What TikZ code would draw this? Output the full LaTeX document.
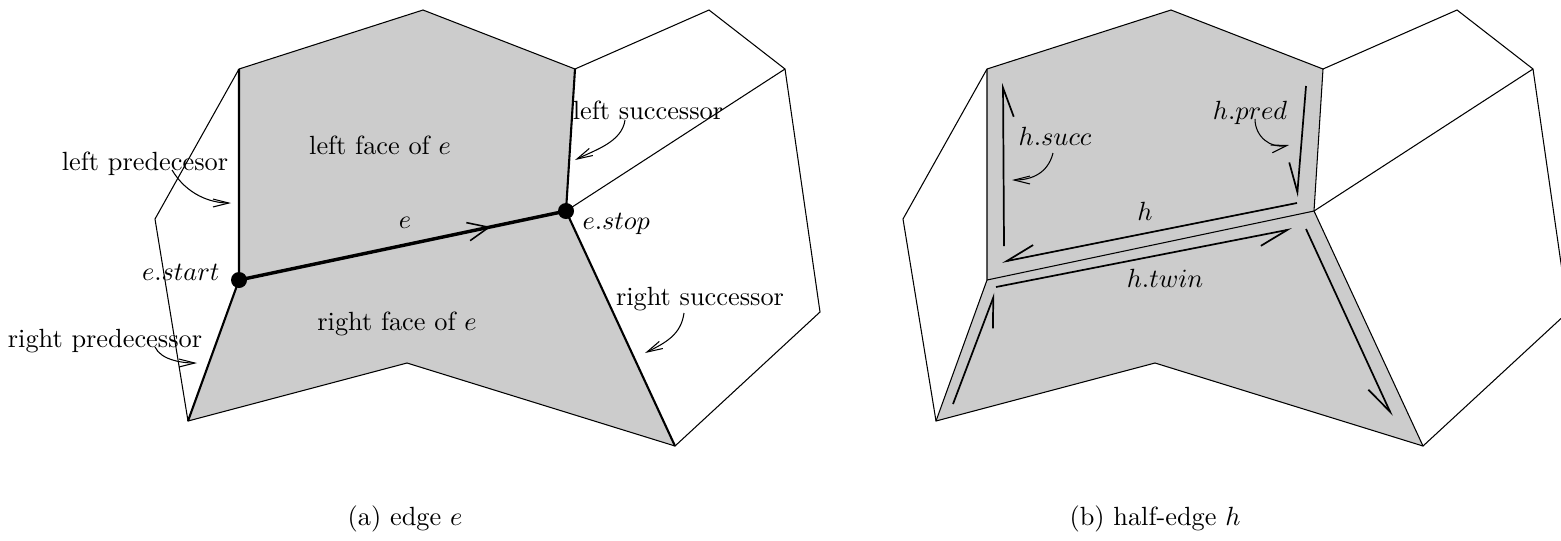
\documentclass[tikz,border=0pt]{standalone}
\usetikzlibrary{arrows.meta,calc,decorations.markings}
\tikzset{
  face/.style={fill=gray!40},
  wire/.style={line width=0.4pt},
  bold/.style={line width=0.8pt},
  edge/.style={line width=1.3pt, postaction={decorate},
    decoration={markings, mark=at position 0.77 with
      {\arrow{Straight Barb[length=8pt,width=7pt,line width=0.6pt]}}}},
  halfedge/.style={line width=0.65pt, -{Straight Barb[right,length=11pt,width=8pt]}},
  note/.style={line width=0.4pt, -{Straight Barb[length=6pt,width=3pt]}},
  lbl/.style={inner sep=0pt, anchor=base},
}

\begin{document}
\begin{tikzpicture}[x=0.38pt,y=-0.38pt]
\useasboundingbox (0,0) rectangle (1561,540);

% vertices of both panels
\foreach \p/\dx in {a/0,b/748}{
  \coordinate (\p-ul)    at (239+\dx,69);
  \coordinate (\p-top)   at (423+\dx,10);
  \coordinate (\p-ur)    at (575+\dx,69);
  \coordinate (\p-stop)  at (566+\dx,211);
  \coordinate (\p-start) at (239+\dx,280);
  \coordinate (\p-ll)    at (188+\dx,421);
  \coordinate (\p-bot)   at (407+\dx,363);
  \coordinate (\p-lr)    at (675+\dx,446);
  \coordinate (\p-west)  at (155+\dx,219);
  \coordinate (\p-nt)    at (709+\dx,10);
  \coordinate (\p-ne)    at (785+\dx,69);
  \coordinate (\p-east)  at (820+\dx,312);
}

\foreach \p in {a,b}{
  \fill[face] (\p-ul) -- (\p-top) -- (\p-ur) -- (\p-stop) -- (\p-lr)
    -- (\p-bot) -- (\p-ll) -- (\p-start) -- cycle;
  \draw[wire] (\p-ul) -- (\p-top) -- (\p-ur) -- (\p-nt) -- (\p-ne) -- (\p-east)
    -- (\p-lr) -- (\p-bot) -- (\p-ll) -- (\p-west) -- cycle;
  \draw[wire] (\p-ne) -- (\p-stop);
}

% (a) edge
\draw[bold] (a-ul) -- (a-start) -- (a-ll);
\draw[bold] (a-ur) -- (a-stop) -- (a-lr);
\draw[edge] (a-start) -- (a-stop);
\fill (a-start) circle[radius=8];
\fill (a-stop) circle[radius=8];

\node[lbl] (lface) at (380,154) {left face of $e$};
\node[lbl] (rface) at (397,330) {right face of $e$};
\node[lbl] (elbl) at (405,228) {$e$};
\node[lbl, anchor=base east] (estart) at (220,280) {$e.start$};
\node[lbl, anchor=base west] (estop) at (582,229) {$e.stop$};
\node[lbl] (lpred) at (145,170) {left predecesor};
\node[lbl] (rpred) at (105,347) {right predecessor};
\node[lbl] (lsucc) at (648,119) {left successor};
\node[lbl] (rsucc) at (700,305) {right successor};

\coordinate (lpred-tip) at (231,203);
\coordinate (rpred-tip) at (197,363);
\coordinate (lsucc-tip) at (575,160);
\coordinate (rsucc-tip) at (645,353);
\draw[note] ($(lpred.base)+(27,0)$) .. controls +(15,25) and +(-20,0) .. (lpred-tip);
\draw[note] ($(rpred.base)+(50,0)$) .. controls +(6,13) and +(-15,0) .. (rpred-tip);
\draw[note] ($(lsucc.base)+(-23,1)$) .. controls +(-3,22) and +(20,-10) .. (lsucc-tip);
\draw[note] ($(rsucc.base)+(-16,8)$) .. controls +(-3,22) and +(20,-10) .. (rsucc-tip);

\node[lbl] (capa) at (405,525) {(a) edge $e$};

% (b) half-edge
\draw[wire] (b-ul) -- (b-start) -- (b-ll);
\draw[wire] (b-ur) -- (b-stop) -- (b-lr);
\draw[wire] (b-start) -- (b-stop);

\coordinate (h1) at (1297,203);   \coordinate (h2) at (1002,262);
\coordinate (s1) at (1004,246);   \coordinate (s2) at (1003,83);
\coordinate (p1) at (1306,86);    \coordinate (p2) at (1297,197);
\coordinate (t1) at (996,287);    \coordinate (t2) at (1292,229);
\coordinate (tn1) at (1306,229);  \coordinate (tn2) at (1392,416);
\coordinate (tp1) at (953,404);   \coordinate (tp2) at (995,293);
\draw[halfedge] (h1) -- (h2);
\draw[halfedge] (s1) -- (s2);
\draw[halfedge] (p1) -- (p2);
\draw[halfedge] (t1) -- (t2);
\draw[halfedge] (tn1) -- (tn2);
\draw[halfedge] (tp1) -- (tp2);

\node[lbl] (hlbl) at (1145,220) {$h$};
\node[lbl] (htwin) at (1165,287) {$h.twin$};
\node[lbl] (hsucc) at (1055,145) {$h.succ$};
\node[lbl] (hpred) at (1250,119) {$h.pred$};

\coordinate (hsucc-tip) at (1012,180);
\coordinate (hpred-tip) at (1289,145);
\draw[note] ($(hsucc.base)+(-2,8)$) .. controls +(-5,20) and +(20,0) .. (hsucc-tip);
\draw[note] ($(hpred.base)+(5,0)$) .. controls +(0,18) and +(-18,4) .. (hpred-tip);

\node[lbl] (capb) at (1155,525) {(b) half-edge $h$};
\end{tikzpicture}
\end{document}
